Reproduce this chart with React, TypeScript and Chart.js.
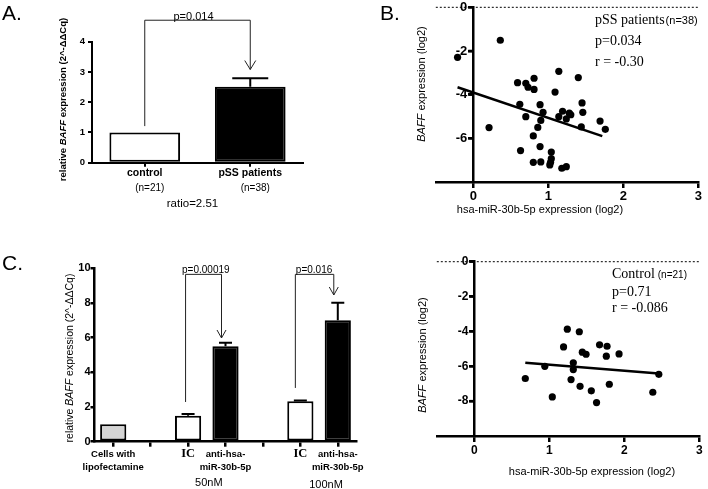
import React, { useEffect, useRef } from 'react';
import { Chart, registerables } from 'chart.js';
Chart.register(...registerables);

const W = 708;
const H = 489;
const SANS = 'Arial, "Liberation Sans", Helvetica, sans-serif';
const SERIF = '"Times New Roman", "Liberation Serif", Times, serif';
const fnt = (size: number, weight = 'normal', style = 'normal', fam = SANS) => `${style} ${weight} ${size}px ${fam}`;

// ---------- Panel A data ----------
const aCategories = ['control', 'pSS patients'];
const aSampleSizes = ['(n=21)', '(n=38)'];
const aMeans = [1.0, 2.51];
const aErrors = [0, 0.28];
const aYMin = 0;
const aYMax = 4;
const aPValue = 'p=0.014';
const aRatio = 'ratio=2.51';

// ---------- Panel B data ----------
const bX = [-0.21, 0.36, 0.21, 0.59, 0.62, 0.63, 0.7, 0.73, 0.7, 0.81, 0.81, 0.8, 0.8, 0.86, 0.89, 0.9, 0.93, 0.89, 0.9, 1.03, 1.04, 1.04, 1.02, 1.09, 1.14, 1.14, 1.19, 1.24, 1.18, 1.24, 1.28, 1.3, 1.45, 1.4, 1.46, 1.44, 1.69, 1.76];
const bY = [-2.29, -1.51, -5.51, -3.45, -4.44, -6.56, -3.48, -3.66, -5.01, -3.25, -3.76, -5.89, -7.1, -5.5, -4.46, -5.18, -4.81, -6.38, -7.08, -7.1, -6.63, -6.93, -7.22, -3.88, -2.93, -5.01, -4.76, -5.11, -7.37, -7.3, -4.85, -4.92, -4.38, -3.22, -4.81, -5.48, -5.21, -5.59];
const bFitX = [-0.21, 1.72];
const bFitY = [-3.66, -5.9];
const bXTicks = [0, 1, 2, 3];
const bYTicks = [0, -2, -4, -6];
const bXRange = [-0.5, 3];
const bYRange = [-8, 0];
const bStats = ['pSS patients', '(n=38)', 'p=0.034', 'r = -0.30'];

// ---------- Panel C data ----------
const cCategories: (string | string[])[] = [['Cells with', 'lipofectamine'], '', 'IC', ['anti-hsa-', 'miR-30b-5p'], '', 'IC', ['anti-hsa-', 'miR-30b-5p']];
const cMeans = [1.0, null, 1.5, 5.5, null, 2.33, 7.0];
const cErrors = [0, null, 0.1, 0.2, null, 0.05, 1.02];
const cGroups = ['50nM', '100nM'];
const cPValues = ['p=0.00019', 'p=0.016'];
const cYMin = 0;
const cYMax = 10;

// ---------- Panel D data ----------
const dX = [0.68, 0.94, 1.04, 1.19, 1.24, 1.29, 1.32, 1.32, 1.4, 1.41, 1.44, 1.49, 1.56, 1.63, 1.67, 1.77, 1.76, 1.8, 1.93, 2.38, 2.46];
const dY = [-6.7, -6.0, -7.76, -4.89, -3.87, -6.76, -5.8, -6.19, -4.02, -7.15, -5.19, -5.31, -7.41, -8.08, -4.77, -4.85, -5.42, -7.03, -5.29, -7.49, -6.46];
const dFitX = [0.68, 2.46];
const dFitY = [-5.8, -6.42];
const dXTicks = [0, 1, 2, 3];
const dYTicks = [0, -2, -4, -6, -8];
const dXRange = [-0.5, 3];
const dYRange = [-10, 0];
const dStats = ['Control', '(n=21)', 'p=0.71', 'r = -0.086'];

// ---------- styles ----------
const aBarColors = ['#ffffff', '#000000'];
const cBarColors = ['#d4d4d4', '#ffffff', '#ffffff', '#000000', '#ffffff', '#ffffff', '#000000'];

type Seg = { t: string; f: string };
function drawSegs(ctx: CanvasRenderingContext2D, segs: Seg[], cx: number, cy: number, rotate: boolean) {
  ctx.save();
  ctx.fillStyle = '#000';
  ctx.textBaseline = 'middle';
  ctx.textAlign = 'left';
  let total = 0;
  for (const s of segs) { ctx.font = s.f; total += ctx.measureText(s.t).width; }
  ctx.translate(cx, cy);
  if (rotate) ctx.rotate(-Math.PI / 2);
  let x = -total / 2;
  for (const s of segs) { ctx.font = s.f; ctx.fillText(s.t, x, 0); x += ctx.measureText(s.t).width; }
  ctx.restore();
}
function text(ctx: CanvasRenderingContext2D, t: string, x: number, y: number, f: string, align: CanvasTextAlign = 'center', base: CanvasTextBaseline = 'middle') {
  ctx.save();
  ctx.fillStyle = '#000';
  ctx.font = f;
  ctx.textAlign = align;
  ctx.textBaseline = base;
  ctx.fillText(t, x, y);
  ctx.restore();
}
function bracket(ctx: CanvasRenderingContext2D, x1: number, y1: number, x2: number, yTop: number, yTip: number, aw: number, ah: number) {
  ctx.save();
  ctx.strokeStyle = '#222';
  ctx.lineWidth = 1;
  ctx.beginPath();
  ctx.moveTo(x1, y1); ctx.lineTo(x1, yTop); ctx.lineTo(x2, yTop); ctx.lineTo(x2, yTip);
  ctx.stroke();
  ctx.beginPath();
  ctx.moveTo(x2 - aw, yTip - ah); ctx.lineTo(x2, yTip); ctx.lineTo(x2 + aw, yTip - ah);
  ctx.stroke();
  ctx.restore();
}
function errorBars(chart: any, means: (number | null)[], errs: (number | null)[], capW: number, lw: number) {
  const ctx = chart.ctx as CanvasRenderingContext2D;
  const y = chart.scales.y;
  const meta = chart.getDatasetMeta(0);
  ctx.save();
  ctx.strokeStyle = '#000';
  ctx.lineWidth = lw;
  means.forEach((m, i) => {
    const e = errs[i];
    if (m == null || !e) return;
    const x = meta.data[i].x;
    const y0 = y.getPixelForValue(m);
    const y1 = y.getPixelForValue(m + e);
    ctx.beginPath();
    ctx.moveTo(x, y0); ctx.lineTo(x, y1);
    ctx.moveTo(x - capW / 2, y1); ctx.lineTo(x + capW / 2, y1);
    ctx.stroke();
  });
  ctx.restore();
}

const axisGrid = (lw: number, tl: number) => ({ display: true, drawOnChartArea: false, color: '#000', lineWidth: lw, tickLength: tl });
const axisBorder = (w: number) => ({ display: true, color: '#000', width: w });
const baseOpts = { responsive: false, animation: false, devicePixelRatio: 1, plugins: { legend: { display: false }, tooltip: { enabled: false } } };

function makeA() {
  return {
    type: 'bar',
    data: {
      labels: aCategories,
      datasets: [{ data: aMeans, backgroundColor: aBarColors, borderColor: '#000', borderWidth: 2, borderSkipped: false, barPercentage: 0.67, categoryPercentage: 1 }],
    },
    options: {
      ...baseOpts,
      layout: { padding: { left: 92 - 40, top: 41.7, right: W - 303, bottom: H - 162.7 - 40 } },
      scales: {
        x: {
          offset: true,
          grid: { ...axisGrid(2, 4), offset: false },
          border: axisBorder(2),
          ticks: { color: '#000', font: { family: SANS, size: 10.5, weight: 'bold' }, padding: 0, autoSkip: false, maxRotation: 0, minRotation: 0 },
          afterFit: (s: any) => { s.height = 40; },
        },
        y: {
          min: aYMin, max: aYMax,
          grid: axisGrid(2, 4),
          border: axisBorder(2),
          ticks: { stepSize: 1, color: '#000', font: { family: SANS, size: 9.5, weight: 'bold' }, padding: 3 },
          afterFit: (s: any) => { s.width = 40; },
        },
      },
    },
    plugins: [{
      id: 'annA',
      afterDraw(chart: any) {
        const ctx = chart.ctx as CanvasRenderingContext2D;
        const y = chart.scales.y;
        const meta = chart.getDatasetMeta(0);
        errorBars(chart, aMeans, aErrors, 36, 2);
        const x0 = meta.data[0].x, x1 = meta.data[1].x;
        const yTop = y.getPixelForValue(4.71);
        bracket(ctx, x0, y.getPixelForValue(1.21), x1, yTop, y.getPixelForValue(3.08), 5.5, 9);
        text(ctx, aPValue, (x0 + x1) / 2 - 4, yTop - 0.5, fnt(11), 'center', 'alphabetic');
        aSampleSizes.forEach((s, i) => text(ctx, s, meta.data[i].x + 5, 188, fnt(10)));
        text(ctx, aRatio, (x0 + x1) / 2 - 5, 203.5, fnt(11.5));
        text(ctx, 'A.', 2, 20, fnt(21), 'left', 'alphabetic');
        const tf = fnt(9.5, 'bold');
        drawSegs(ctx, [
          { t: 'relative ', f: tf },
          { t: 'BAFF', f: fnt(9.5, 'bold', 'italic') },
          { t: ' expression (2^-ΔΔCq)', f: tf },
        ], 63, 99.5, true);
      },
    }],
  };
}

function makeScatter(xs: number[], ys: number[], fx: number[], fy: number[], xr: number[], yr: number[], xt: number[], yt: number[], area: { l: number; r: number; t: number; b: number }, tickSize: number, draw: (chart: any) => void) {
  const pts = xs.map((x, i) => ({ x, y: ys[i] }));
  const fit = fx.map((x, i) => ({ x, y: fy[i] }));
  const zero = xr.map((x) => ({ x, y: 0 }));
  return {
    type: 'scatter',
    data: {
      datasets: [
        { type: 'line', data: zero, borderColor: '#000', borderWidth: 1, borderDash: [2, 2], pointRadius: 0, clip: false },
        { type: 'line', data: fit, borderColor: '#000', borderWidth: 2.5, pointRadius: 0, clip: false },
        { data: pts, backgroundColor: '#000', borderColor: '#000', pointRadius: 3.6, borderWidth: 0, clip: false },
      ],
    },
    options: {
      ...baseOpts,
      layout: { padding: { left: area.l, top: area.t, right: W - area.r, bottom: H - area.b - 40 } },
      scales: {
        x: {
          type: 'linear', min: xr[0], max: xr[1],
          afterBuildTicks: (s: any) => { s.ticks = xt.map((v) => ({ value: v })); },
          grid: axisGrid(2.5, 6),
          border: axisBorder(2.5),
          ticks: { color: '#000', font: { family: SANS, size: tickSize, weight: 'bold' }, padding: 1 },
          afterFit: (s: any) => { s.height = 40; },
        },
        y: {
          type: 'linear', min: yr[0], max: yr[1], position: { x: 0 },
          afterBuildTicks: (s: any) => { s.ticks = yt.map((v) => ({ value: v })); },
          grid: axisGrid(2.5, 4),
          border: axisBorder(2.5),
          ticks: { display: false },
        },
      },
    },
    plugins: [{
      id: 'annS',
      afterDraw(chart: any) {
        const ctx = chart.ctx as CanvasRenderingContext2D;
        const xs2 = chart.scales.x;
        const ys2 = chart.scales.y;
        const ax = xs2.getPixelForValue(0);
        ctx.save();
        ctx.strokeStyle = '#000';
        ctx.lineWidth = 2.5;
        ys2.ticks.forEach((t: any) => {
          const py = ys2.getPixelForValue(t.value);
          ctx.beginPath();
          ctx.moveTo(ax, py);
          ctx.lineTo(ax - 5, py);
          ctx.stroke();
          text(ctx, String(t.value), ax - 6, py, fnt(tickSize, 'bold'), 'right', 'middle');
        });
        ctx.restore();
        draw(chart);
      },
    }],
  };
}

function makeB() {
  return makeScatter(bX, bY, bFitX, bFitY, bXRange, bYRange, bXTicks, bYTicks, { l: 435.8, r: 698.3, t: 7.3, b: 182 }, 13, (chart: any) => {
    const ctx = chart.ctx as CanvasRenderingContext2D;
    text(ctx, 'B.', 380, 20, fnt(21), 'left', 'alphabetic');
    const sf = fnt(14, 'normal', 'normal', SERIF);
    ctx.font = sf;
    const w = ctx.measureText(bStats[0]).width;
    text(ctx, bStats[0], 595, 23.5, sf, 'left', 'alphabetic');
    text(ctx, bStats[1], 595 + w + 1, 23.5, fnt(11), 'left', 'alphabetic');
    text(ctx, bStats[2], 595, 45, sf, 'left', 'alphabetic');
    text(ctx, bStats[3], 595, 66, sf, 'left', 'alphabetic');
    drawSegs(ctx, [{ t: 'BAFF', f: fnt(11, 'normal', 'italic') }, { t: ' expression (log2)', f: fnt(11) }], 421.7, 84, true);
    text(ctx, 'hsa-miR-30b-5p expression (log2)', 540, 210, fnt(11));
  });
}

function makeD() {
  return makeScatter(dX, dY, dFitX, dFitY, dXRange, dYRange, dXTicks, dYTicks, { l: 436.8, r: 699.3, t: 261.7, b: 436 }, 12, (chart: any) => {
    const ctx = chart.ctx as CanvasRenderingContext2D;
    const sf = fnt(14, 'normal', 'normal', SERIF);
    ctx.font = sf;
    const w = ctx.measureText(dStats[0]).width;
    text(ctx, dStats[0], 612, 278, sf, 'left', 'alphabetic');
    text(ctx, dStats[1], 612 + w + 3, 278, fnt(10), 'left', 'alphabetic');
    text(ctx, dStats[2], 612, 295.5, sf, 'left', 'alphabetic');
    text(ctx, dStats[3], 612, 311.5, sf, 'left', 'alphabetic');
    drawSegs(ctx, [{ t: 'BAFF', f: fnt(11, 'normal', 'italic') }, { t: ' expression (log2)', f: fnt(11) }], 423, 355, true);
    text(ctx, 'hsa-miR-30b-5p expression (log2)', 592, 472, fnt(11));
  });
}

function makeC() {
  return {
    type: 'bar',
    data: {
      labels: cCategories,
      datasets: [{ data: cMeans, backgroundColor: cBarColors, borderColor: '#000', borderWidth: 2, borderSkipped: false, barPercentage: 0.7, categoryPercentage: 1 }],
    },
    options: {
      ...baseOpts,
      layout: { padding: { left: 94.5 - 40, top: 268.3, right: W - 356.5, bottom: H - 441.7 - 40 } },
      scales: {
        x: {
          offset: true,
          grid: { ...axisGrid(2.5, 5), offset: false },
          border: axisBorder(2.5),
          ticks: {
            color: '#000', padding: 1, autoSkip: false, maxRotation: 0, minRotation: 0,
            font: (c: any) => (cCategories[c.index] === 'IC'
              ? { family: SERIF, size: 12.5, weight: 'bold', lineHeight: 1.0 }
              : { family: SANS, size: 9.5, weight: 'bold', lineHeight: 1.4 }),
          },
          afterFit: (s: any) => { s.height = 40; },
        },
        y: {
          min: cYMin, max: cYMax,
          grid: axisGrid(2.5, 4),
          border: axisBorder(2.5),
          ticks: { stepSize: 2, color: '#000', font: { family: SANS, size: 11, weight: 'bold' }, padding: 0 },
          afterFit: (s: any) => { s.width = 40; },
        },
      },
    },
    plugins: [{
      id: 'annC',
      afterDraw(chart: any) {
        const ctx = chart.ctx as CanvasRenderingContext2D;
        const y = chart.scales.y;
        const meta = chart.getDatasetMeta(0);
        const ca = chart.chartArea;
        errorBars(chart, cMeans, cErrors, 13, 2);
        const px = (i: number) => meta.data[i].x;
        const yTop = y.getPixelForValue(9.65);
        bracket(ctx, px(2) - 2.5, y.getPixelForValue(2.29), px(3) - 4, yTop, y.getPixelForValue(5.98), 4.5, 8);
        bracket(ctx, px(5) - 5, y.getPixelForValue(3.1), px(6) - 4, yTop, y.getPixelForValue(8.46), 4.5, 8);
        text(ctx, cPValues[0], (px(2) + px(3)) / 2 - 1, yTop - 1.5, fnt(10), 'center', 'alphabetic');
        text(ctx, cPValues[1], (px(5) + px(6)) / 2 - 5, yTop - 1.5, fnt(10), 'center', 'alphabetic');
        text(ctx, cGroups[0], (px(2) + px(3)) / 2 + 2, 483, fnt(11));
        text(ctx, cGroups[1], (px(5) + px(6)) / 2 + 7, 485, fnt(11));
        text(ctx, 'C.', 2, 270, fnt(21), 'left', 'alphabetic');
        const tf = fnt(10.5);
        drawSegs(ctx, [
          { t: 'relative ', f: tf },
          { t: 'BAFF', f: fnt(10.5, 'normal', 'italic') },
          { t: ' expression (2^-ΔΔCq)', f: tf },
        ], ca.left - 24, (ca.top + ca.bottom) / 2 + 3, true);
      },
    }],
  };
}

function ChartCanvas({ make }: { make: () => any }) {
  const ref = useRef<HTMLCanvasElement>(null);
  useEffect(() => {
    const chart = new Chart(ref.current as HTMLCanvasElement, make());
    return () => chart.destroy();
  }, [make]);
  return <canvas ref={ref} width={W} height={H} style={{ position: 'absolute', left: 0, top: 0, width: W, height: H }} />;
}

export default function App() {
  return (
    <div style={{ position: 'absolute', left: 0, top: 0, width: W, height: H, background: '#fff', overflow: 'hidden' }}>
      <ChartCanvas make={makeA} />
      <ChartCanvas make={makeB} />
      <ChartCanvas make={makeC} />
      <ChartCanvas make={makeD} />
    </div>
  );
}
